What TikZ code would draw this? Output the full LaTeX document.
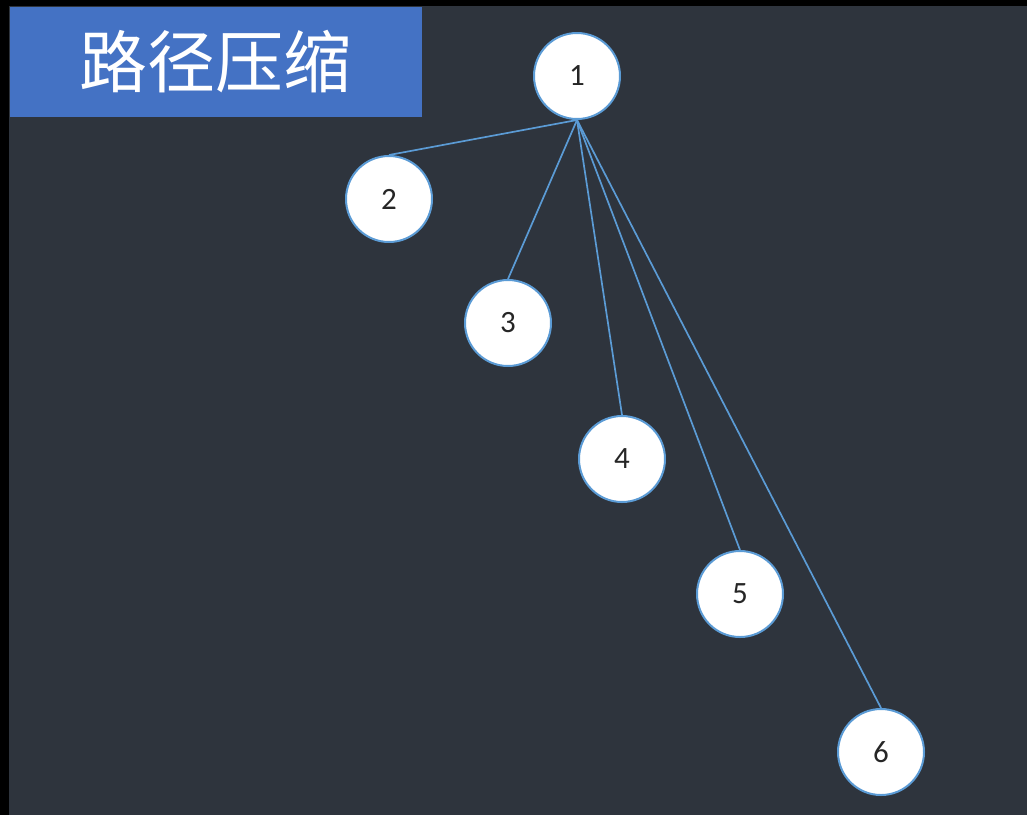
\documentclass[tikz,border=0pt]{standalone}
\usepackage{fontspec}
\setmainfont{Carlito}
\newfontfamily\cjk{Noto Sans CJK SC}
\definecolor{bgc}{HTML}{2E343D}
\definecolor{titlec}{HTML}{4472C4}
\definecolor{edgec}{HTML}{5B9BD5}
\begin{document}
\begin{tikzpicture}[x=1pt,y=-1pt,
  vert/.style={circle,draw=edgec,line width=2pt,fill=white,minimum size=86pt,inner sep=0pt,font=\fontsize{31}{33}\selectfont,text=black!85},
  link/.style={draw=edgec,line width=1.7pt}]
\fill[black] (0,0) rectangle (1027,815);
\fill[bgc] (9,6) rectangle (1027,815);
\useasboundingbox (0,0) rectangle (1027,815);
\node[fill=titlec,minimum width=412pt,minimum height=110pt,inner sep=0pt,text=white,font=\cjk\fontsize{68}{72}\selectfont] (title) at (215.5,62) {路径压缩};
\node[vert] (n1) at (577,76) {1};
\node[vert] (n2) at (389,199) {2};
\node[vert] (n3) at (508,323) {3};
\node[vert] (n4) at (622,459) {4};
\node[vert] (n5) at (740,594) {5};
\node[vert] (n6) at (881,752) {6};
\foreach \t in {n2,n3,n4,n5,n6}{
  \draw[link] (n1.south) -- (\t.north);
}
\end{tikzpicture}
\end{document}
